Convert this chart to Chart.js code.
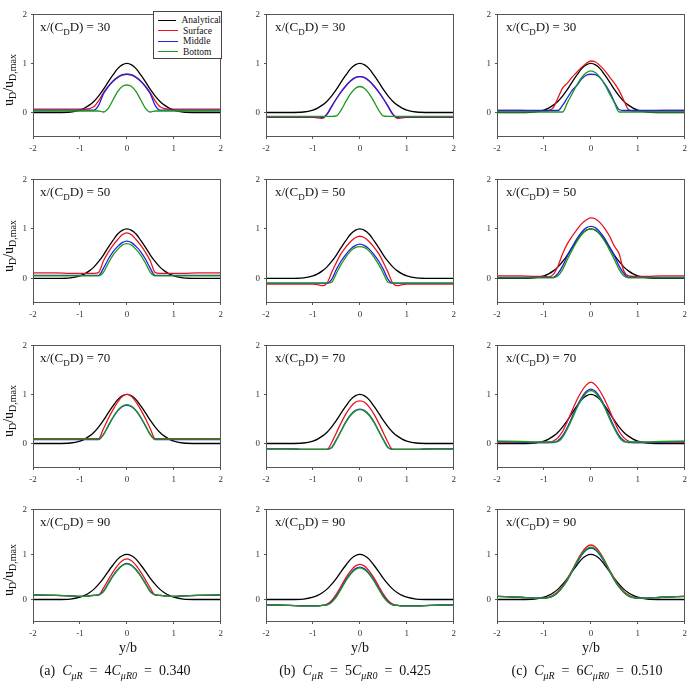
<!DOCTYPE html>
<html lang="en">
<head>
<meta charset="UTF-8" />
<title>Wake velocity profiles</title>
<script src="https://cdn.jsdelivr.net/npm/chart.js"></script>
<style>
  body { margin: 0; background: #fff; font-family: "Liberation Serif", "Times New Roman", serif; color: #111; }
  .page { position: relative; width: 690px; height: 685px; overflow: hidden; }
  .panel { position: absolute; }
  .note { position: absolute; font-size: 13px; white-space: nowrap; line-height: 1; }
  .note sub { font-size: 9px; }
  .ytitle { position: absolute; font-size: 14px; white-space: nowrap; line-height: 1;
            transform: translate(-50%, -50%) rotate(-90deg); }
  .ytitle sub { font-size: 10px; }
  .xtitle { position: absolute; font-size: 14px; transform: translate(-50%, -50%); }
  .caption { position: absolute; font-size: 14px; white-space: nowrap; transform: translate(-50%, -50%); }
  .caption sub { font-size: 10px; }
  .legend { position: absolute; left: 153px; top: 11px; width: 69px; height: 48px; box-sizing: border-box;
            border: 1px solid #444; background: #fff; font-size: 9.5px; padding-top: 3px; }
  .legend div { height: 10.5px; line-height: 10.5px; display: flex; align-items: center; }
  .legend span.sw { display: inline-block; width: 20px; height: 0; border-top: 1.3px solid; margin: 0 5px 0 4px; }
</style>
</head>
<body>
<div class="page" id="page">
  <div class="legend">
    <div><span class="sw" style="border-color:#000"></span>Analytical</div>
    <div><span class="sw" style="border-color:#e8141b"></span>Surface</div>
    <div><span class="sw" style="border-color:#2222e0"></span>Middle</div>
    <div><span class="sw" style="border-color:#1a9a1a"></span>Bottom</div>
  </div>
</div>

<script>
// y/b positions where the profiles were read
const xs = [-2, -1.5, -1.2, -1, -0.9, -0.8, -0.7, -0.6, -0.5, -0.4, -0.3, -0.2, -0.1, 0,
            0.1, 0.2, 0.3, 0.4, 0.5, 0.6, 0.7, 0.8, 0.9, 1, 1.2, 1.5, 2];
const xTicks = [-2, -1, 0, 1, 2];
const yTicks = [0, 1, 2];
const stations = [30, 50, 70, 90];
const seriesNames = ["Analytical", "Surface", "Middle", "Bottom"];

const analytical = [0,0,0.01,0.05,0.09,0.15,0.23,0.34,0.47,0.62,0.76,0.89,0.97,1,0.97,0.89,0.76,0.62,0.47,0.34,0.23,0.15,0.09,0.05,0.01,0,0];

// (a) C_muR = 4 C_muR0
const surfaceA30 = [0.07,0.07,0.07,0.07,0.07,0.08,0.12,0.24,0.4,0.53,0.64,0.72,0.77,0.78,0.77,0.72,0.64,0.53,0.4,0.24,0.12,0.08,0.07,0.07,0.07,0.07,0.07];
const middleA30  = [0.05,0.05,0.05,0.05,0.05,0.05,0.05,0.15,0.38,0.52,0.63,0.71,0.76,0.78,0.76,0.71,0.63,0.52,0.38,0.15,0.05,0.05,0.05,0.05,0.05,0.05,0.05];
const bottomA30  = [0.03,0.03,0.03,0.03,0.03,0.03,0.03,0.03,0.01,0.08,0.25,0.42,0.53,0.56,0.53,0.42,0.25,0.08,0.01,0.03,0.03,0.03,0.03,0.03,0.03,0.03,0.03];
const surfaceA50 = [0.11,0.11,0.1,0.1,0.1,0.1,0.1,0.12,0.35,0.52,0.66,0.78,0.88,0.92,0.88,0.78,0.66,0.52,0.35,0.12,0.1,0.1,0.1,0.1,0.1,0.11,0.11];
const middleA50  = [0.06,0.06,0.06,0.06,0.06,0.06,0.06,0.06,0.2,0.38,0.53,0.64,0.72,0.75,0.72,0.64,0.53,0.38,0.2,0.06,0.06,0.06,0.06,0.06,0.06,0.06,0.06];
const bottomA50  = [0.05,0.05,0.05,0.05,0.05,0.05,0.05,0.05,0.12,0.3,0.46,0.58,0.67,0.7,0.67,0.58,0.46,0.3,0.12,0.05,0.05,0.05,0.05,0.05,0.05,0.05,0.05];
const surfaceA70 = [0.1,0.1,0.1,0.1,0.1,0.1,0.1,0.1,0.3,0.5,0.68,0.84,0.96,1.0,0.96,0.84,0.68,0.5,0.3,0.1,0.1,0.1,0.1,0.1,0.1,0.1,0.1];
const middleA70  = [0.08,0.08,0.08,0.08,0.08,0.08,0.08,0.08,0.18,0.35,0.52,0.66,0.75,0.78,0.75,0.66,0.52,0.35,0.18,0.08,0.08,0.08,0.08,0.08,0.08,0.08,0.08];
const bottomA70  = [0.09,0.09,0.09,0.09,0.09,0.09,0.09,0.09,0.18,0.36,0.53,0.67,0.76,0.79,0.76,0.67,0.53,0.36,0.18,0.09,0.09,0.09,0.09,0.09,0.09,0.09,0.09];
const surfaceA90 = [0.1,0.09,0.08,0.07,0.07,0.08,0.09,0.1,0.25,0.43,0.6,0.75,0.86,0.9,0.86,0.75,0.6,0.43,0.25,0.1,0.09,0.08,0.07,0.07,0.08,0.09,0.1];
const middleA90  = [0.1,0.09,0.08,0.07,0.07,0.08,0.09,0.1,0.18,0.35,0.52,0.66,0.76,0.8,0.76,0.66,0.52,0.35,0.18,0.1,0.09,0.08,0.07,0.07,0.08,0.09,0.1];
const bottomA90  = [0.1,0.09,0.08,0.07,0.07,0.08,0.09,0.1,0.17,0.34,0.51,0.65,0.75,0.79,0.75,0.65,0.51,0.34,0.17,0.1,0.09,0.08,0.07,0.07,0.08,0.09,0.1];

// (b) C_muR = 5 C_muR0
const surfaceB30 = [-0.1,-0.1,-0.1,-0.1,-0.11,-0.12,-0.04,0.12,0.28,0.42,0.54,0.64,0.71,0.73,0.71,0.64,0.54,0.42,0.28,0.12,-0.04,-0.12,-0.11,-0.1,-0.1,-0.1,-0.1];
const middleB30  = [-0.09,-0.09,-0.09,-0.09,-0.09,-0.1,-0.03,0.13,0.28,0.42,0.54,0.64,0.71,0.73,0.71,0.64,0.54,0.42,0.28,0.13,-0.03,-0.1,-0.09,-0.09,-0.09,-0.09,-0.09];
const bottomB30  = [-0.08,-0.08,-0.08,-0.08,-0.08,-0.08,-0.08,-0.08,-0.07,0.05,0.22,0.38,0.49,0.53,0.49,0.38,0.22,0.05,-0.07,-0.08,-0.08,-0.08,-0.08,-0.08,-0.08,-0.08,-0.08];
const surfaceB50 = [-0.12,-0.12,-0.12,-0.12,-0.13,-0.15,-0.1,0.12,0.32,0.5,0.63,0.74,0.82,0.85,0.82,0.74,0.63,0.5,0.32,0.12,-0.1,-0.15,-0.13,-0.12,-0.12,-0.12,-0.12];
const middleB50  = [-0.1,-0.1,-0.1,-0.1,-0.1,-0.1,-0.1,-0.02,0.18,0.35,0.48,0.59,0.66,0.69,0.66,0.59,0.48,0.35,0.18,-0.02,-0.1,-0.1,-0.1,-0.1,-0.1,-0.1,-0.1];
const bottomB50  = [-0.1,-0.1,-0.1,-0.1,-0.1,-0.1,-0.1,-0.08,0.1,0.28,0.43,0.55,0.62,0.64,0.62,0.55,0.43,0.28,0.1,-0.08,-0.1,-0.1,-0.1,-0.1,-0.1,-0.1,-0.1];
const surfaceB70 = [-0.11,-0.11,-0.12,-0.12,-0.12,-0.12,-0.12,0.02,0.22,0.42,0.6,0.74,0.84,0.87,0.84,0.74,0.6,0.42,0.22,0.02,-0.12,-0.12,-0.12,-0.12,-0.12,-0.11,-0.11];
const middleB70  = [-0.11,-0.11,-0.12,-0.12,-0.12,-0.12,-0.12,-0.08,0.08,0.26,0.44,0.58,0.67,0.7,0.67,0.58,0.44,0.26,0.08,-0.08,-0.12,-0.12,-0.12,-0.12,-0.12,-0.11,-0.11];
const bottomB70  = [-0.11,-0.11,-0.12,-0.12,-0.12,-0.12,-0.12,-0.09,0.07,0.25,0.43,0.57,0.66,0.69,0.66,0.57,0.43,0.25,0.07,-0.09,-0.12,-0.12,-0.12,-0.12,-0.12,-0.11,-0.11];
const surfaceB90 = [-0.12,-0.13,-0.14,-0.14,-0.14,-0.13,-0.1,-0.02,0.12,0.3,0.48,0.63,0.74,0.78,0.74,0.63,0.48,0.3,0.12,-0.02,-0.1,-0.13,-0.14,-0.14,-0.14,-0.13,-0.12];
const middleB90  = [-0.12,-0.13,-0.14,-0.14,-0.14,-0.13,-0.12,-0.05,0.08,0.25,0.43,0.58,0.68,0.72,0.68,0.58,0.43,0.25,0.08,-0.05,-0.12,-0.13,-0.14,-0.14,-0.14,-0.13,-0.12];
const bottomB90  = [-0.12,-0.13,-0.14,-0.14,-0.14,-0.13,-0.12,-0.06,0.06,0.23,0.41,0.56,0.66,0.7,0.66,0.56,0.41,0.23,0.06,-0.06,-0.12,-0.13,-0.14,-0.14,-0.14,-0.13,-0.12];

// (c) C_muR = 6 C_muR0
const surfaceC30 = [0.04,0.04,0.03,0.03,0.04,0.1,0.3,0.5,0.6,0.72,0.82,0.92,1.0,1.05,1.03,0.95,0.85,0.72,0.6,0.45,0.25,0.06,0.03,0.03,0.03,0.04,0.04];
const middleC30  = [0.04,0.04,0.04,0.04,0.04,0.04,0.04,0.15,0.3,0.45,0.55,0.68,0.76,0.78,0.77,0.7,0.58,0.42,0.22,0.06,0.04,0.04,0.04,0.04,0.04,0.04,0.04];
const bottomC30  = [0.01,0.01,0.01,0.01,0.01,0.01,0.01,0.01,0.2,0.38,0.56,0.71,0.81,0.85,0.81,0.71,0.56,0.38,0.2,0.01,0.01,0.01,0.01,0.01,0.01,0.01,0.01];
const surfaceC50 = [0.05,0.05,0.04,0.04,0.03,0.08,0.25,0.5,0.7,0.85,0.98,1.1,1.18,1.22,1.2,1.12,1.0,0.85,0.65,0.5,0.15,0.05,0.04,0.04,0.04,0.05,0.05];
const middleC50  = [0.02,0.02,0.02,0.02,0.02,0.02,0.1,0.25,0.45,0.63,0.8,0.93,1.02,1.05,1.02,0.93,0.8,0.63,0.45,0.25,0.1,0.02,0.02,0.02,0.02,0.02,0.02];
const bottomC50  = [0.01,0.01,0.01,0.01,0.01,0.01,0.05,0.18,0.38,0.57,0.74,0.88,0.97,1.0,0.97,0.88,0.74,0.57,0.38,0.18,0.05,0.01,0.01,0.01,0.01,0.01,0.01];
const surfaceC70 = [0.03,0.03,0.02,0.02,0.02,0.05,0.12,0.25,0.45,0.67,0.88,1.06,1.19,1.25,1.19,1.06,0.88,0.67,0.45,0.25,0.12,0.05,0.02,0.02,0.02,0.03,0.03];
const middleC70  = [0.04,0.03,0.02,0.02,0.02,0.02,0.06,0.16,0.33,0.54,0.75,0.93,1.06,1.11,1.06,0.93,0.75,0.54,0.33,0.16,0.06,0.02,0.02,0.02,0.02,0.03,0.04];
const bottomC70  = [0.05,0.04,0.03,0.03,0.03,0.03,0.04,0.13,0.3,0.5,0.72,0.9,1.03,1.08,1.03,0.9,0.72,0.5,0.3,0.13,0.04,0.03,0.03,0.03,0.03,0.04,0.05];
const surfaceC90 = [0.07,0.05,0.03,0.03,0.05,0.1,0.18,0.3,0.46,0.65,0.85,1.03,1.16,1.21,1.16,1.03,0.85,0.65,0.46,0.3,0.18,0.1,0.05,0.03,0.03,0.05,0.07];
const middleC90  = [0.07,0.05,0.03,0.03,0.04,0.08,0.16,0.28,0.43,0.62,0.81,0.98,1.1,1.14,1.1,0.98,0.81,0.62,0.43,0.28,0.16,0.08,0.04,0.03,0.03,0.05,0.07];
const bottomC90  = [0.07,0.05,0.03,0.03,0.04,0.08,0.16,0.28,0.44,0.63,0.83,1.0,1.12,1.16,1.12,1.0,0.83,0.63,0.44,0.28,0.16,0.08,0.04,0.03,0.03,0.05,0.07];

// rows = stations, columns = cases a/b/c
const panelSeries = [
  [[surfaceA30, middleA30, bottomA30], [surfaceB30, middleB30, bottomB30], [surfaceC30, middleC30, bottomC30]],
  [[surfaceA50, middleA50, bottomA50], [surfaceB50, middleB50, bottomB50], [surfaceC50, middleC50, bottomC50]],
  [[surfaceA70, middleA70, bottomA70], [surfaceB70, middleB70, bottomB70], [surfaceC70, middleC70, bottomC70]],
  [[surfaceA90, middleA90, bottomA90], [surfaceB90, middleB90, bottomB90], [surfaceC90, middleC90, bottomC90]],
];

// layout (pixels)
const colLeft = [33, 266, 497];
const plotW = 188;
const rowTop = [11, 176, 342, 506];
const rowH = [126, 127, 126, 116];
const yW = 26, xH = 20, padT = 6, padR = 6;
const colors = ["#000000", "#e8141b", "#2222e0", "#1a9a1a"];
const FONT = '"Liberation Serif", "Times New Roman", serif';

const framePlugin = {
  id: "frame",
  afterDraw(chart) {
    const { ctx, chartArea: a } = chart;
    ctx.save();
    ctx.strokeStyle = "#555";
    ctx.lineWidth = 1;
    ctx.strokeRect(Math.round(a.left) + 0.5, Math.round(a.top) + 0.5,
                   Math.round(a.right - a.left) - 1, Math.round(a.bottom - a.top) - 1);
    ctx.restore();
  },
};

const page = document.getElementById("page");

function addHtml(cls, html, left, top) {
  const d = document.createElement("div");
  d.className = cls;
  d.innerHTML = html;
  d.style.left = left + "px";
  d.style.top = top + "px";
  page.appendChild(d);
  return d;
}

stations.forEach((st, r) => {
  for (let c = 0; c < 3; c++) {
    const box = document.createElement("div");
    box.className = "panel";
    box.style.left = colLeft[c] - yW + "px";
    box.style.top = rowTop[r] - padT + "px";
    const canvas = document.createElement("canvas");
    canvas.width = plotW + yW + padR;
    canvas.height = rowH[r] + padT + xH;
    box.appendChild(canvas);
    page.insertBefore(box, page.firstChild);

    const series = [analytical].concat(panelSeries[r][c]);
    const datasets = series.map((arr, i) => ({
      label: seriesNames[i],
      data: xs.map((x, k) => ({ x: x, y: arr[k] })),
      borderColor: colors[i],
      borderWidth: 1.3,
      pointRadius: 0,
      cubicInterpolationMode: "monotone",
      order: 4 - i,
    }));

    new Chart(canvas, {
      type: "line",
      data: { datasets },
      plugins: [framePlugin],
      options: {
        responsive: false,
        animation: false,
        layout: { padding: { top: padT, right: padR, left: 0, bottom: 0 } },
        plugins: { legend: { display: false }, tooltip: { enabled: false } },
        scales: {
          x: {
            type: "linear", min: -2, max: 2,
            afterBuildTicks: (s) => { s.ticks = xTicks.map((v) => ({ value: v })); },
            afterFit: (s) => { s.height = xH; },
            grid: { display: true, drawOnChartArea: false, tickLength: 2, color: "#555" },
            border: { display: false },
            ticks: { padding: 4, maxRotation: 0, color: "#333", font: { family: FONT, size: 9 } },
          },
          y: {
            type: "linear", min: -0.5, max: 2,
            afterBuildTicks: (s) => { s.ticks = yTicks.map((v) => ({ value: v })); },
            afterFit: (s) => { s.width = yW; },
            grid: { display: true, drawOnChartArea: false, tickLength: 2, color: "#555" },
            border: { display: false },
            ticks: { padding: 4, color: "#333", font: { family: FONT, size: 9 } },
          },
        },
      },
    });

    addHtml("note", "x/(C<sub>D</sub>D) = " + st,
            colLeft[c] + (c === 0 ? 7 : 9), rowTop[r] + 9);
  }
  addHtml("ytitle", "u<sub>D</sub>/u<sub>D,max</sub>", 10, rowTop[r] + rowH[r] / 2 + 6);
});

const colCenter = [128, 360, 591];
const captions = [
  "(a)&nbsp; <i>C<sub>μR</sub></i>&nbsp; = &nbsp;4<i>C<sub>μR0</sub></i>&nbsp; = &nbsp;0.340",
  "(b)&nbsp; <i>C<sub>μR</sub></i>&nbsp; = &nbsp;5<i>C<sub>μR0</sub></i>&nbsp; = &nbsp;0.425",
  "(c)&nbsp; <i>C<sub>μR</sub></i>&nbsp; = &nbsp;6<i>C<sub>μR0</sub></i>&nbsp; = &nbsp;0.510",
];
const captionCenter = [115, 355, 587];
for (let c = 0; c < 3; c++) {
  addHtml("xtitle", "y/b", colCenter[c], 648);
  addHtml("caption", captions[c], captionCenter[c], 672);
}
</script>
</body>
</html>
